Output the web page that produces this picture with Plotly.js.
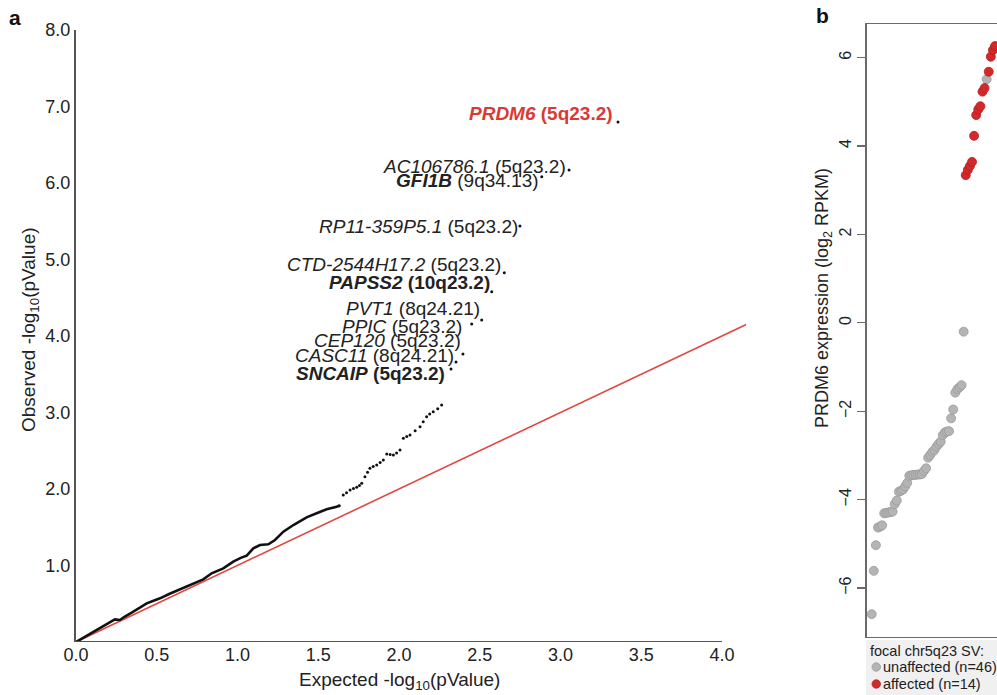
<!DOCTYPE html>
<html><head><meta charset="utf-8">
<script src="https://cdn.plot.ly/plotly-3.0.1.min.js"></script>
<style>html,body{margin:0;padding:0;background:#fff;overflow:hidden}#chart{width:997px;height:695px}</style>
</head><body><div id="chart"></div>
<script>
// ---------- Panel a: QQ plot ----------
const qqExpected = [0.00,0.05,0.10,0.15,0.20,0.241,0.272,0.30,0.35,0.40,0.438,0.48,0.520,0.58,0.644,0.70,0.75,0.788,0.840,0.912,0.974,1.02,1.057,1.098,1.139,1.191,1.232,1.284,1.346,1.39,1.428,1.490,1.552,1.614,1.63,
  1.655,1.675,1.697,1.718,1.738,1.755,1.769,1.789,1.805,1.820,1.840,1.862,1.883,1.903,1.924,1.945,1.965,1.985,2.006,2.027,2.048,2.068,2.100,2.130,2.150,2.171,2.190,2.212,2.240,2.264];
const qqObserved = [0.00,0.06,0.12,0.18,0.25,0.296,0.288,0.33,0.39,0.46,0.505,0.54,0.571,0.63,0.688,0.74,0.78,0.819,0.898,0.963,1.050,1.10,1.129,1.224,1.268,1.277,1.333,1.442,1.529,1.58,1.630,1.682,1.734,1.768,1.78,
  1.922,1.950,1.987,2.005,2.022,2.045,2.074,2.161,2.220,2.270,2.295,2.314,2.345,2.379,2.458,2.450,2.444,2.470,2.510,2.662,2.685,2.706,2.760,2.815,2.880,2.945,2.980,3.010,3.050,3.098];
const geneNames = ["SNCAIP","CASC11","CEP120","PPIC","PVT1","PAPSS2","CTD-2544H17.2","RP11-359P5.1","GFI1B","AC106786.1","PRDM6"];
const geneBands = ["5q23.2","8q24.21","5q23.2","5q23.2","8q24.21","10q23.2","5q23.2","5q23.2","9q34.13","5q23.2","5q23.2"];
const geneExpected = [2.322,2.353,2.396,2.450,2.512,2.574,2.652,2.749,2.884,3.053,3.356];
const geneObserved = [3.569,3.660,3.765,4.157,4.209,4.579,4.827,5.438,6.082,6.170,6.797];
const nullLineX = [0, 4.15];
const xTickVals = [0,0.5,1,1.5,2,2.5,3,3.5,4];
const yTickVals = [1,2,3,4,5,6,7,8];

// ---------- Panel b: PRDM6 expression, sorted ----------
const prdm6Expr = [-6.59,-5.61,-5.03,-4.63,-4.61,-4.58,-4.31,-4.30,-4.29,-4.28,-4.27,-4.10,-4.02,-3.82,-3.80,-3.77,-3.70,-3.62,
  -3.46,-3.45,-3.44,-3.44,-3.43,-3.43,-3.42,-3.35,-3.29,-3.05,-2.99,-2.92,-2.88,-2.80,-2.74,-2.69,-2.54,-2.48,-2.46,-2.45,
  -2.16,-1.96,-1.58,-1.50,-1.46,-1.41,-0.20,
  3.34,3.46,3.55,3.64,4.23,4.70,4.83,4.90,5.23,5.31,5.51,5.68,6.02,6.17,6.26];
const prdm6Affected = [0,0,0,0,0,0,0,0,0,0,0,0,0,0,0,0,0,0,0,0,0,0,0,0,0,0,0,0,0,0,0,0,0,0,0,0,0,0,0,0,0,0,0,0,0,
  1,1,1,1,1,1,1,1,1,1,0,1,1,1,1];
const bTickVals = [-6,-4,-2,0,2,4,6];
const legendTitle = "focal chr5q23 SV:";
const legendLabels = ["unaffected (n=46)", "affected (n=14)"];

// ---------- styles / layout ----------
const FONT = "Liberation Sans, Arial, Helvetica, sans-serif";
const W = 997, H = 695;
const px = v => v / W, py = v => (H - v) / H;
const denseUntil = 1.63;
const labelStyle = [
  {x:2.300, y:3.505, bold:"all"},
  {x:2.350, y:3.745, bold:"none"},
  {x:2.396, y:3.940, bold:"none"},
  {x:2.400, y:4.125, bold:"none"},
  {x:2.514, y:4.355, bold:"none"},
  {x:2.578, y:4.705, bold:"all"},
  {x:2.646, y:4.935, bold:"none"},
  {x:2.749, y:5.425, bold:"none"},
  {x:2.880, y:6.035, bold:"gene"},
  {x:3.046, y:6.215, bold:"none"},
  {x:3.336, y:6.910, bold:"all", color:"#d93a35"}
];

const denseX = [], denseY = [], sparseX = [], sparseY = [];
qqExpected.forEach((e, i) => {
  if (e <= denseUntil) { denseX.push(e); denseY.push(qqObserved[i]); }
  if (e >= denseUntil) { sparseX.push(e); sparseY.push(qqObserved[i]); }
});

const rank = prdm6Expr.map((v, i) => i);
const grayX = [], grayY = [], redX = [], redY = [];
prdm6Expr.forEach((v, i) => {
  if (prdm6Affected[i]) { redX.push(rank[i]); redY.push(v); }
  else { grayX.push(rank[i]); grayY.push(v); }
});

const traces = [
  {x: nullLineX, y: nullLineX, mode: "lines", line: {color: "#e0483f", width: 1.6}, xaxis: "x", yaxis: "y", hoverinfo: "skip", showlegend: false},
  {x: denseX, y: denseY, mode: "lines", line: {color: "#111", width: 2.6}, xaxis: "x", yaxis: "y", showlegend: false},
  {x: sparseX, y: sparseY, mode: "markers", marker: {color: "#111", size: 3}, xaxis: "x", yaxis: "y", showlegend: false},
  {x: geneExpected, y: geneObserved, text: geneNames, mode: "markers", marker: {color: "#111", size: 3}, xaxis: "x", yaxis: "y", showlegend: false},
  {x: grayX, y: grayY, mode: "markers", name: legendLabels[0], marker: {color: "#b4b4b4", size: 9, line: {color: "#9a9a9a", width: 0.8}}, xaxis: "x2", yaxis: "y2", showlegend: false},
  {x: redX, y: redY, mode: "markers", name: legendLabels[1], marker: {color: "#d3292b", size: 9, line: {color: "#b51f20", width: 0.8}}, xaxis: "x2", yaxis: "y2", showlegend: false}
];

const annotations = geneNames.map((g, i) => {
  const s = labelStyle[i];
  let t;
  if (s.bold === "all") t = "<b><i>" + g + "</i> (" + geneBands[i] + ")</b>";
  else if (s.bold === "gene") t = "<b><i>" + g + "</i></b> (" + geneBands[i] + ")";
  else t = "<i>" + g + "</i> (" + geneBands[i] + ")";
  return {x: s.x, y: s.y, xref: "x", yref: "y", text: t, showarrow: false, xanchor: "right", yanchor: "middle",
          font: {family: FONT, size: 19, color: s.color || "#222"}};
});
annotations.push(
  {x: px(399), y: py(681), xref: "paper", yref: "paper", text: "Expected -log<sub>10</sub>(pValue)", showarrow: false,
   xanchor: "center", yanchor: "middle", font: {family: FONT, size: 19, color: "#222"}},
  {x: px(30), y: py(330), xref: "paper", yref: "paper", text: "Observed -log<sub>10</sub>(pValue)", showarrow: false,
   textangle: -90, xanchor: "center", yanchor: "middle", font: {family: FONT, size: 19, color: "#222"}},
  {x: px(824), y: py(298), xref: "paper", yref: "paper", text: "PRDM6 expression (log<sub>2</sub> RPKM)", showarrow: false,
   textangle: -90, xanchor: "center", yanchor: "middle", font: {family: FONT, size: 18, color: "#222"}},
  {x: px(15), y: py(17), xref: "paper", yref: "paper", text: "<b>a</b>", showarrow: false,
   xanchor: "center", yanchor: "middle", font: {family: FONT, size: 21, color: "#111"}},
  {x: px(822), y: py(16), xref: "paper", yref: "paper", text: "<b>b</b>", showarrow: false,
   xanchor: "center", yanchor: "middle", font: {family: FONT, size: 21, color: "#111"}},
  {x: px(868), y: py(651), xref: "paper", yref: "paper", text: legendTitle, showarrow: false,
   xanchor: "left", yanchor: "middle", font: {family: FONT, size: 14.5, color: "#222"}},
  {x: px(881), y: py(667), xref: "paper", yref: "paper", text: legendLabels[0], showarrow: false,
   xanchor: "left", yanchor: "middle", font: {family: FONT, size: 14.5, color: "#222"}},
  {x: px(881), y: py(684), xref: "paper", yref: "paper", text: legendLabels[1], showarrow: false,
   xanchor: "left", yanchor: "middle", font: {family: FONT, size: 14.5, color: "#222"}}
);

const shapes = [
  {type: "line", xref: "x", yref: "y", x0: 0, x1: 4, y0: 0, y1: 0, line: {color: "#555", width: 2}},
  {type: "rect", xref: "paper", yref: "paper", x0: px(866), x1: 1, y0: 0, y1: py(640), fillcolor: "#f0f0f0", line: {width: 0}, layer: "below"},
  {type: "circle", xref: "paper", yref: "paper", x0: px(872), x1: px(880.5), y0: py(671.2), y1: py(662.8), fillcolor: "#b4b4b4", line: {color: "#9a9a9a", width: 0.8}},
  {type: "circle", xref: "paper", yref: "paper", x0: px(872), x1: px(880.5), y0: py(688.2), y1: py(679.8), fillcolor: "#d3292b", line: {color: "#b51f20", width: 0.8}}
];

const layout = {
  width: W, height: H, margin: {l: 0, r: 0, t: 0, b: 0}, paper_bgcolor: "#fff", plot_bgcolor: "rgba(0,0,0,0)",
  font: {family: FONT, color: "#222"}, showlegend: false,
  xaxis: {domain: [px(76), px(76 + 4.15 * 161.5)], range: [0, 4.15], tickvals: xTickVals, tickformat: ".1f",
          ticks: "", showline: false, showgrid: false, zeroline: false, tickfont: {size: 18, color: "#222"}, anchor: "y", fixedrange: true},
  yaxis: {domain: [py(642), py(30)], range: [0, 8], tickvals: yTickVals, tickformat: ".1f", ticks: "",
          showline: true, linecolor: "#555", linewidth: 2, showgrid: false, zeroline: false, tickfont: {size: 18, color: "#222"}, anchor: "x", fixedrange: true},
  xaxis2: {domain: [px(866.7), 1], range: [-2.39, 59.95], showticklabels: false, ticks: "", showline: true, mirror: true,
           linecolor: "#6a6a6a", linewidth: 1.5, showgrid: false, zeroline: false, anchor: "y2", fixedrange: true},
  yaxis2: {domain: [py(636.7), py(24)], range: [-7.10, 6.76], tickvals: bTickVals, ticks: "outside", ticklen: 8, tickwidth: 1.2,
           tickcolor: "#6a6a6a", tickangle: -90, showline: true, linecolor: "#6a6a6a", linewidth: 1.5, showgrid: false, zeroline: false,
           tickfont: {size: 16, color: "#222"}, anchor: "x2", fixedrange: true},
  annotations: annotations, shapes: shapes
};

Plotly.newPlot("chart", traces, layout, {displayModeBar: false, staticPlot: true});
</script></body></html>
